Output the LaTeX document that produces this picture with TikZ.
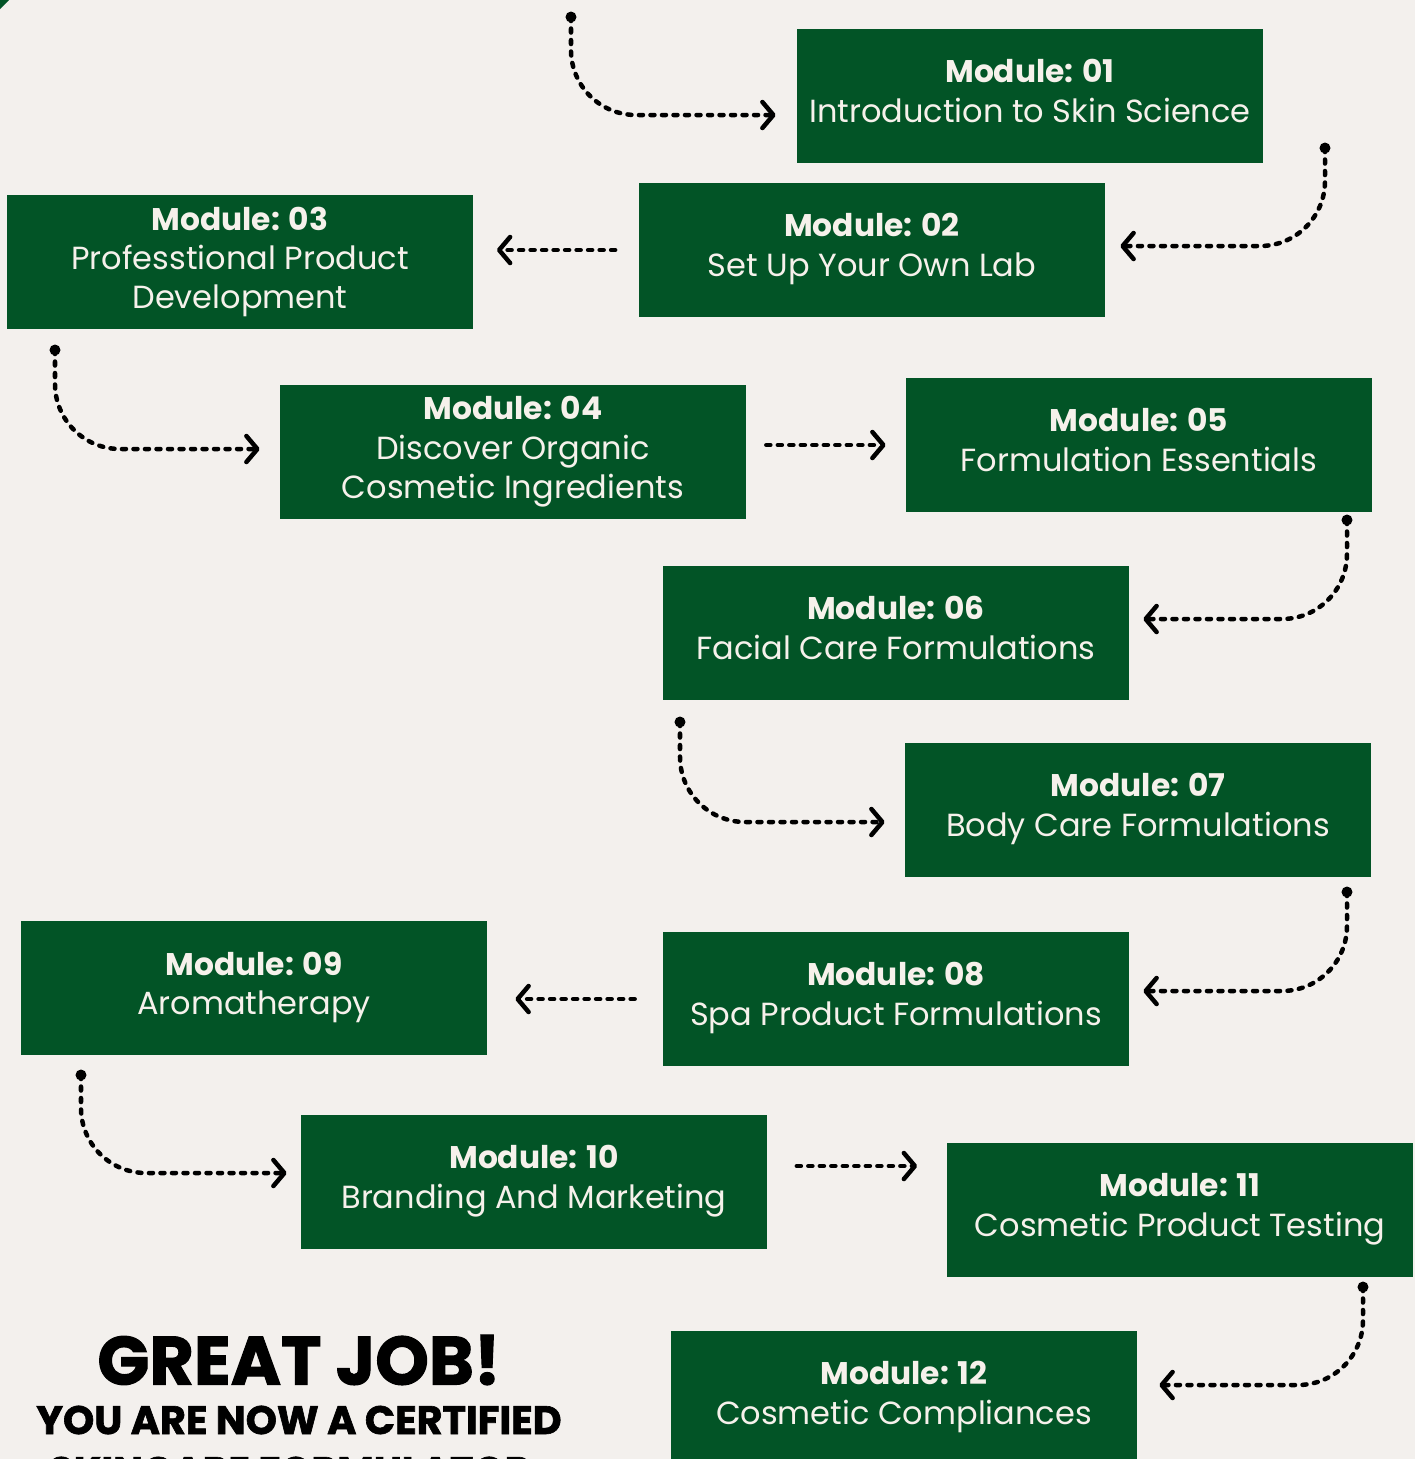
\documentclass[tikz,border=0pt]{standalone}
\usepackage{fontspec}
\setmainfont{Poppins}
\newfontfamily\heavyfont{Poppins}[BoldFeatures={FakeBold=1.6}]
\usepackage{xcolor}
\usepackage{tikz}
\usetikzlibrary{arrows.meta, positioning, calc}

\definecolor{paper}{RGB}{243,240,237}
\definecolor{modgreen}{RGB}{2,84,38}
\definecolor{modtext}{RGB}{246,241,235}

\begin{document}
\begin{tikzpicture}[
    x=0.01cm, y=-0.01cm,
    modbox/.style={fill=modgreen, text=modtext, minimum width=4.65cm, minimum height=1.33cm,
        inner sep=0pt, align=center, font=\fontsize{9.1}{11.2}\selectfont},
    twoline/.style={modbox, text depth=0.1cm},
    flow/.style={line width=0.045cm, line cap=round, dash pattern=on 0.04cm off 0.075cm,
        -{Straight Barb[length=0.11cm, width=0.26cm, round]}},
    bentflow/.style={flow, rounded corners=0.65cm},
    gap/.style={shorten <=#1, shorten >=#1},
    startdot/.style={circle, fill=black, inner sep=0pt, minimum size=0.11cm},
    headline/.style={font=\fontsize{19.4}{19.4}\selectfont\heavyfont\bfseries, inner sep=0pt},
    subline/.style={font=\fontsize{11.3}{11.3}\selectfont\heavyfont\bfseries, inner sep=0pt}
]
% --- page ---
\fill[paper] (0,0) rectangle (1415,1459);
\useasboundingbox (0,0) rectangle (1415,1459);
\fill[modgreen] (0,0) -- (9,0) -- (0,9) -- cycle;

% --- modules ---
\node[twoline] (m01) at (1030,96) {{\fontsize{8.9}{11.2}\selectfont\bfseries Module: 01}\\Introduction to Skin Science};
\node[twoline] (m02) at (872,250) {{\fontsize{8.9}{11.2}\selectfont\bfseries Module: 02}\\Set Up Your Own Lab};
\node[modbox] (m03) at (240,262) {{\fontsize{8.9}{11.2}\selectfont\bfseries Module: 03}\\Professtional Product\\Development};
\node[modbox] (m04) at (513,452) {{\fontsize{8.9}{11.2}\selectfont\bfseries Module: 04}\\Discover Organic\\Cosmetic Ingredients};
\node[twoline] (m05) at (1139,445) {{\fontsize{8.9}{11.2}\selectfont\bfseries Module: 05}\\Formulation Essentials};
\node[twoline] (m06) at (896,633) {{\fontsize{8.9}{11.2}\selectfont\bfseries Module: 06}\\Facial Care Formulations};
\node[twoline] (m07) at (1138,810) {{\fontsize{8.9}{11.2}\selectfont\bfseries Module: 07}\\Body Care Formulations};
\node[twoline] (m08) at (896,999) {{\fontsize{8.9}{11.2}\selectfont\bfseries Module: 08}\\Spa Product Formulations};
\node[twoline] (m09) at (254,988) {{\fontsize{8.9}{11.2}\selectfont\bfseries Module: 09}\\Aromatherapy};
\node[twoline] (m10) at (534,1182) {{\fontsize{8.9}{11.2}\selectfont\bfseries Module: 10}\\Branding And Marketing};
\node[twoline] (m11) at (1180,1210) {{\fontsize{8.9}{11.2}\selectfont\bfseries Module: 11}\\Cosmetic Product Testing};
\node[twoline] (m12) at (904,1398) {{\fontsize{8.9}{11.2}\selectfont\bfseries Module: 12}\\Cosmetic Compliances};

% --- start dots of the bent arrows ---
\node[startdot] (d01) at (571,17) {};
\node[startdot] (d02) at (1325,148) {};
\node[startdot] (d04) at (55,350) {};
\node[startdot] (d06) at (1347,520) {};
\node[startdot] (d07) at (680,722) {};
\node[startdot] (d08) at (1347,892) {};
\node[startdot] (d10) at (81,1075) {};
\node[startdot] (d12) at (1363,1287) {};

% --- bent arrows ---
\draw[bentflow] (d01.center) |- ([shift={(-21,19)}]m01.west);
\draw[bentflow] (d02.center) |- ([shift={(15,-4)}]m02.east);
\draw[bentflow] (d04.center) |- ([shift={(-20,-3)}]m04.west);
\draw[bentflow] (d06.center) |- ([shift={(14,-14)}]m06.east);
\draw[bentflow] (d07.center) |- ([shift={(-20,12)}]m07.west);
\draw[bentflow] (d08.center) |- ([shift={(14,-8)}]m08.east);
\draw[bentflow] (d10.center) |- ([shift={(-14,-9)}]m10.west);
\draw[bentflow] (d12.center) |- ([shift={(22,-13)}]m12.east);

% --- straight arrows ---
\draw[flow, gap=0.235cm] (m02.west) -- (m02.west -| m03.east);
\draw[flow, gap=0.2cm] (m04.east |- m05.west) -- (m05.west);
\draw[flow, gap=0.28cm] (m08.west) -- (m08.west -| m09.east);
\draw[flow, gap=0.295cm] ([shift={(0,-16)}]m10.east) -- ([shift={(0,-16)}]m10.east -| m11.west);

% --- closing words ---
\node[headline] (great) at (299,1360) {GREAT JOB!};
\node[subline] (cert) at (299,1420) {YOU ARE NOW A CERTIFIED};
\node[subline] (form) at (290,1471) {SKINCARE FORMULATOR};

\end{tikzpicture}
\end{document}
